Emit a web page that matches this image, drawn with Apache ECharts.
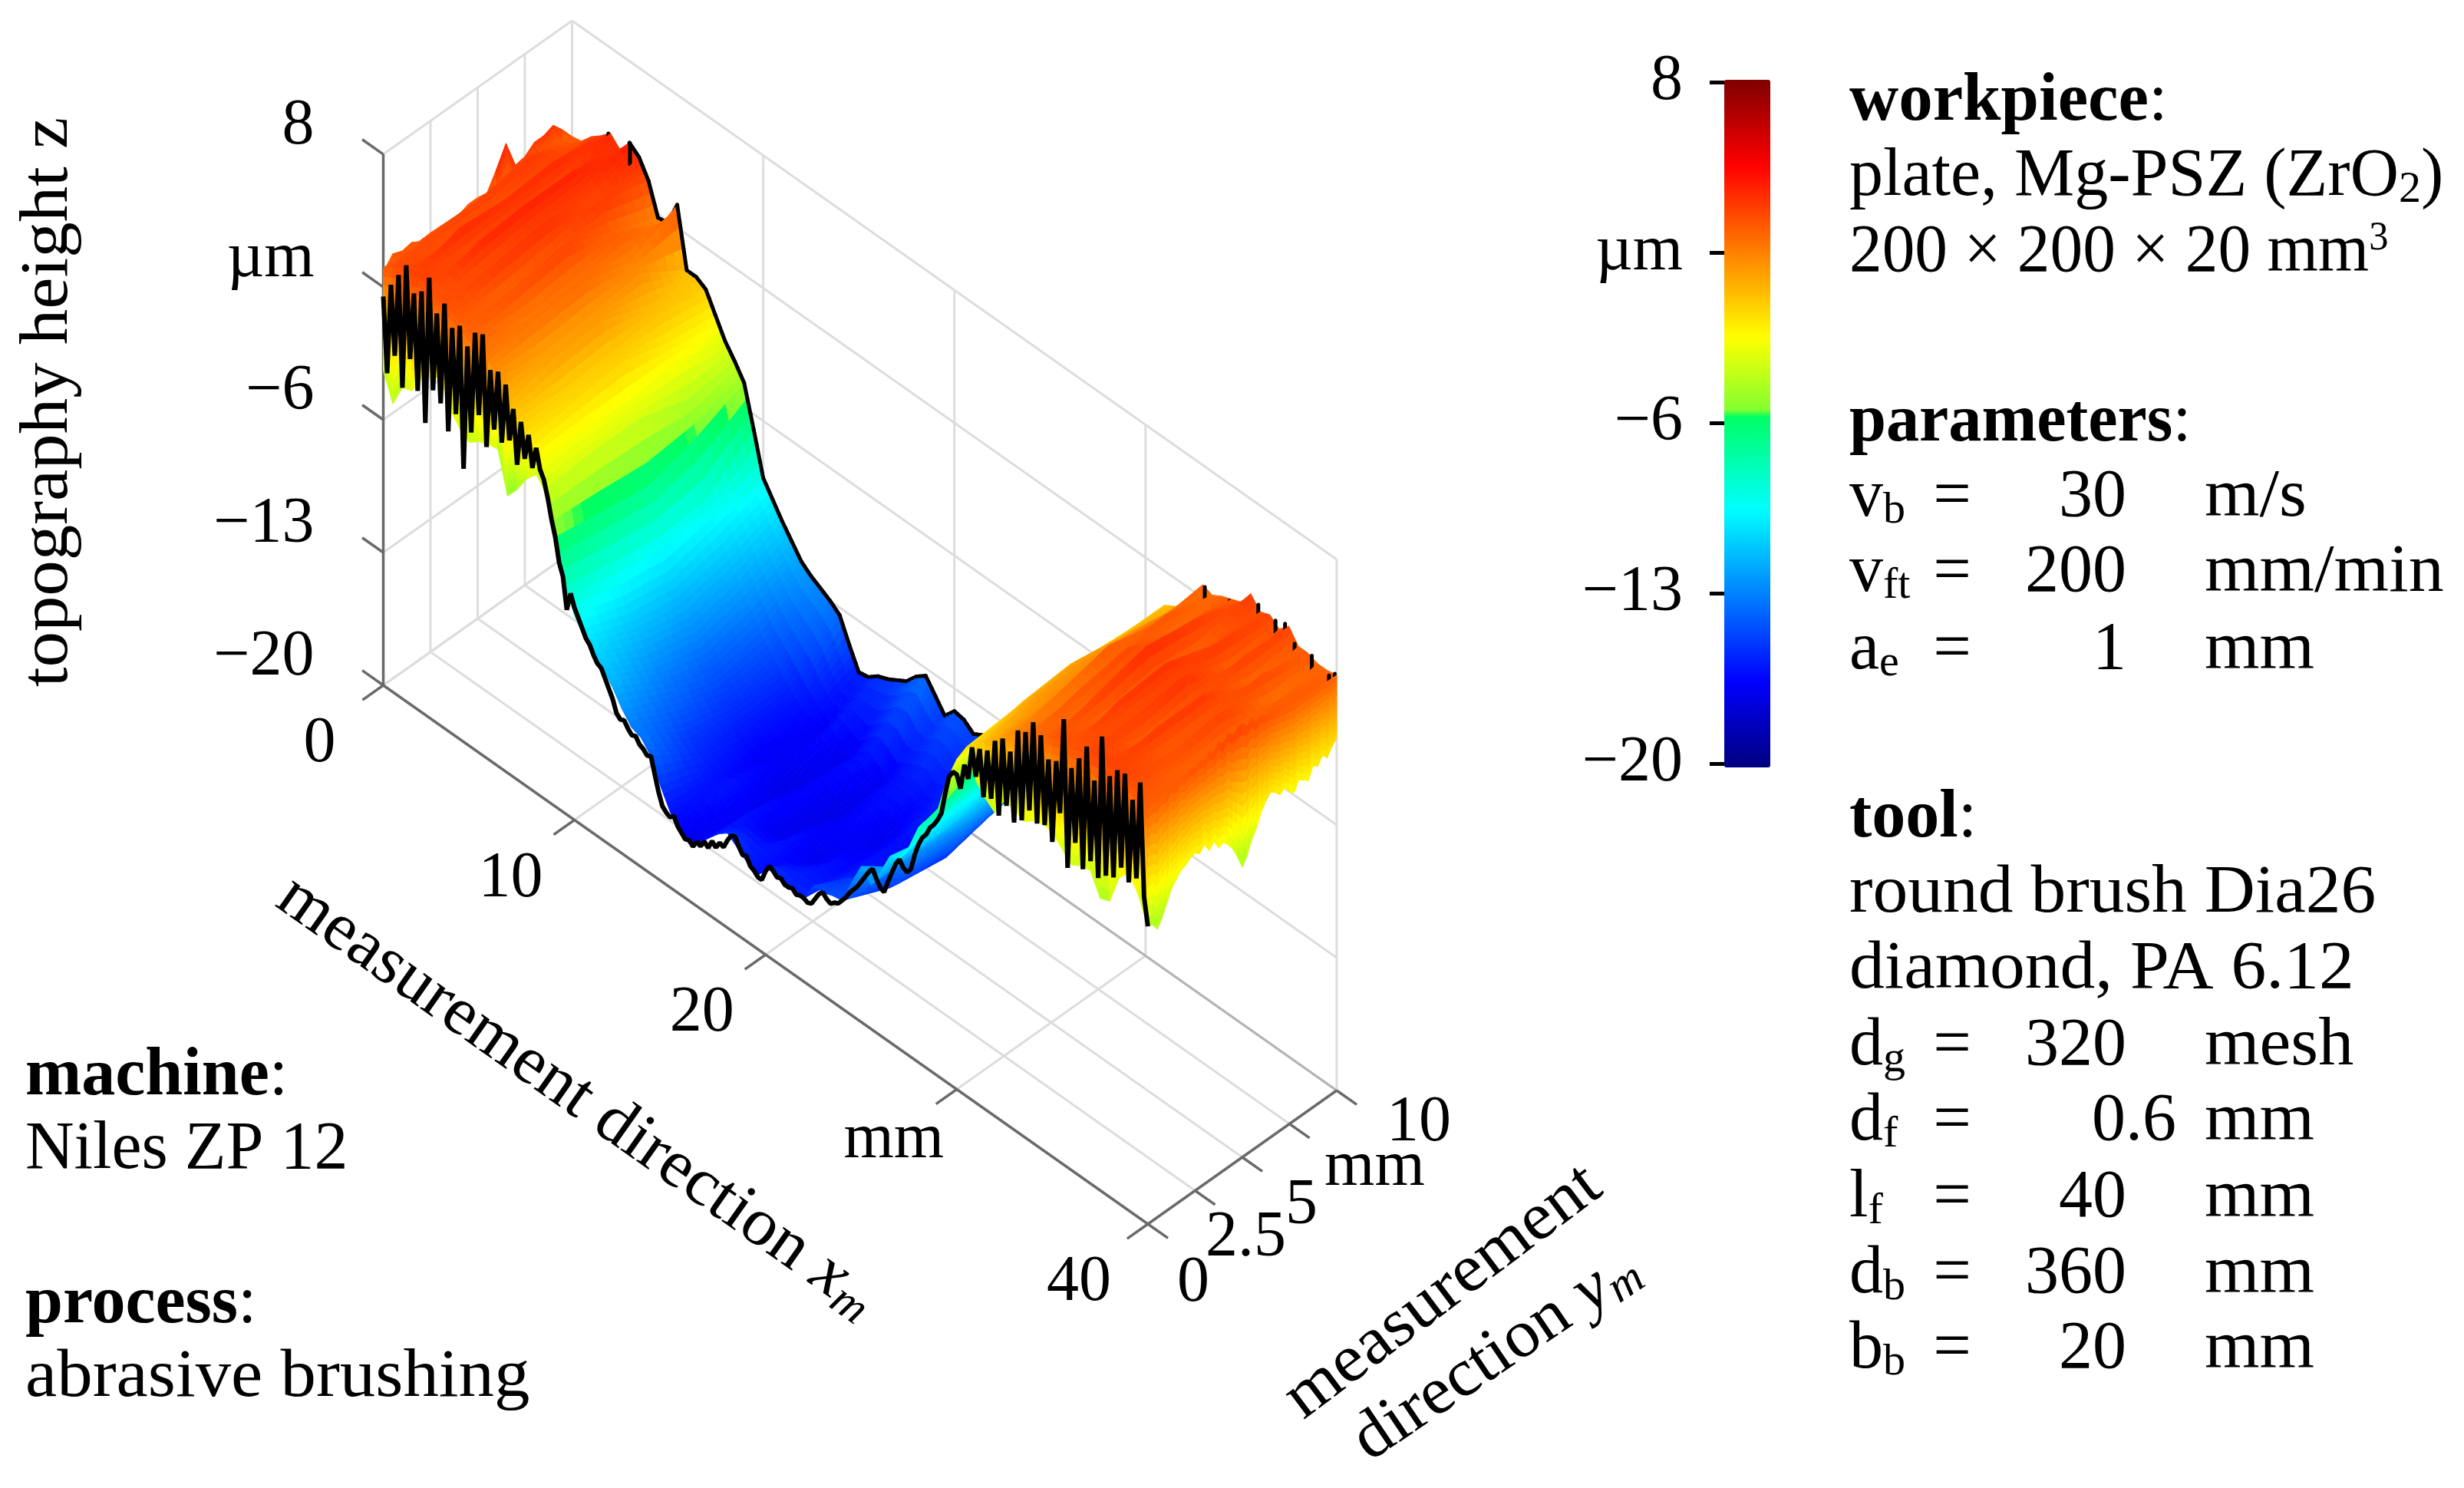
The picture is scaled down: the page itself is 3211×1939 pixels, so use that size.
<!DOCTYPE html>
<html><head><meta charset="utf-8">
<style>html,body{margin:0;padding:0;background:#fff}#c{width:3211px;height:1939px}</style>
<script src="https://cdn.jsdelivr.net/npm/echarts@6/dist/echarts.min.js"></script>
</head><body><div id="c"></div>
<script>
// ---------- tick values and labels ----------
const xTicks=[0,10,20,30,40];
const xTickLabels=['0','10','20','mm','40'];
const yTicks=[0,2.5,5,7.5,10];
const yTickLabels=['0','2.5','5','mm','10'];
const zTicks=[-20,-13,-6,1,8];
const zTickLabels=['\u221220','\u221213','\u22126','\u00b5m','8'];
// ---------- surface heights z (um) per row ym, columns xm = 0, 0.5 ... 40 ----------
const zY100=[1.9,2.0,2.6,3.0,3.5,3.0,3.7,3.3,2.4,0.8,
0.9,2.2,-0.9,-0.9,-1.2,-2.2,-3.2,-3.9,-4.7,-6.8,
-9.0,-9.8,-10.6,-11.3,-12.0,-12.4,-12.7,-13.0,-13.4,-14.6,
-15.7,-15.6,-15.2,-15.0,-14.7,-14.4,-13.8,-13.4,-14.1,-14.8,
-14.2,-14.3,-14.7,-14.4,-14.5,-14.6,-14.5,-14.6,-14.3,-14.0,
-13.5,-12.6,-11.5,-10.2,-9.0,-7.8,-6.5,-5.2,-4.0,-3.2,
-2.5,-1.6,-0.8,-0.5,-0.2,0.6,1.7,1.5,1.8,2.0,
2.2,3.0,2.4,2.6,2.2,2.7,2.0,2.0,1.8,1.8,
1.9];
const zY75=[2.6,3.0,2.6,3.4,2.6,3.6,3.0,2.6,3.0,1.8,
2.0,0.9,0.7,-0.6,-0.8,-1.9,-2.5,-4.2,-5.8,-8.8,
-9.8,-10.8,-11.6,-12.4,-13.2,-14.0,-14.6,-15.2,-15.8,-16.2,
-16.4,-16.8,-16.2,-16.6,-17.0,-16.4,-16.0,-16.4,-16.8,-16.2,
-16.0,-15.8,-16.2,-16.0,-15.6,-15.8,-15.6,-15.4,-15.0,-14.6,
-13.8,-12.8,-11.6,-10.4,-9.2,-8.0,-6.8,-5.6,-4.2,-3.0,
-2.2,-1.4,-0.8,-0.2,0.4,1.0,1.4,2.2,1.6,2.4,
3.0,1.8,2.4,3.0,1.8,2.8,1.6,2.6,1.4,2.0,
2.0];
const zY50=[2.0,2.8,2.2,3.2,2.8,3.6,2.8,3.2,2.2,2.8,
1.4,1.6,0.3,0.3,-1.0,-1.2,-2.8,-3.4,-6.6,-9.0,
-10.4,-11.4,-12.2,-13.0,-13.8,-14.4,-15.0,-15.4,-16.0,-16.4,
-16.8,-16.6,-17.0,-17.2,-16.8,-16.4,-16.8,-17.2,-17.0,-16.6,
-16.4,-16.8,-17.0,-16.6,-16.2,-16.6,-16.2,-16.0,-15.6,-15.2,
-14.2,-13.0,-11.8,-10.6,-9.4,-8.2,-7.0,-5.6,-4.2,-3.0,
-2.0,-1.2,-0.4,0.2,0.6,0.8,2.0,1.8,2.6,2.0,
3.4,2.0,3.2,2.6,3.2,2.2,3.0,2.2,2.8,1.8,
2.6];
const zY25=[2.1,2.6,2.2,3.4,2.4,3.4,2.4,3.0,1.8,2.4,
1.2,1.4,0.1,0.1,-1.2,-1.5,-2.6,-3.4,-6.2,-8.6,
-10.0,-11.0,-11.6,-12.4,-13.0,-13.6,-14.2,-15.0,-15.4,-15.8,
-16.2,-16.0,-16.4,-16.8,-16.2,-16.6,-17.0,-16.8,-16.2,-16.6,
-17.0,-16.6,-16.2,-16.4,-16.0,-15.8,-15.2,-15.0,-15.4,-14.8,
-13.6,-12.4,-11.6,-10.8,-9.4,-8.4,-7.2,-6.0,-4.8,-3.4,
-2.4,-1.4,-0.6,0.0,0.4,0.6,1.4,1.2,2.2,1.6,
2.8,1.6,3.0,2.4,2.8,1.8,3.0,2.0,2.4,1.8,
2.2];
const zY0=[2.0,2.4,2.6,2.6,2.8,2.2,2.4,2.2,2.0,1.8,
1.6,1.0,0.4,-0.6,-1.0,-1.8,-2.6,-3.6,-5.8,-8.0,
-9.2,-10.0,-10.6,-11.0,-11.6,-12.4,-13.0,-13.2,-13.8,-15.0,
-16.0,-16.6,-17.0,-16.6,-16.0,-15.4,-15.0,-15.4,-15.8,-16.2,
-15.4,-15.4,-15.6,-15.6,-15.6,-14.6,-14.6,-14.4,-14.3,-13.0,
-11.8,-12.4,-11.4,-10.2,-10.0,-9.0,-7.6,-6.8,-6.0,-4.0,
-2.6,-1.6,-1.2,-0.6,-0.2,0.4,0.8,1.2,1.6,1.8,
2.0,2.4,2.2,2.4,2.6,2.8,2.6,2.8,2.4,2.2,
1.8];
// lower edge of the surface under the front profile, same columns
const zFrontLow=[-3.4,-4.8,-3.6,-3.4,-2.4,-2.0,-1.6,-3.0,-3.6,-4.0,
-3.6,-3.4,-3.3,-5.4,-4.7,-3.8,-3.2,-3.8,-6.4,null,
null,null,null,null,null,null,null,null,null,null,
null,null,null,null,null,null,null,null,null,null,
null,null,null,null,null,null,null,null,null,null,
null,null,null,null,null,null,null,null,null,null,
null,null,-3.0,-3.6,-4.0,-3.0,-3.1,-3.4,-3.0,-2.8,
-2.9,-3.4,-3.9,-3.6,-3.5,-4.6,-4.4,-2.8,-2.2,-3.0,
-4.3];
// black profile at ym = 0, xm = 0, 0.2 ... 40
const zFrontLine=[0.5,-3.4,1.4,-2.2,2.2,-3.6,3.0,-1.8,1.8,-3.2,
2.2,-4.6,3.2,-2.6,1.6,-3.0,2.4,-4.2,1.4,-3.0,
1.8,-5.6,1.0,-3.4,2.0,-2.2,2.2,-3.6,0.6,-2.4,
0.8,-2.8,0.4,-2.4,-0.6,-3.4,-1.0,-2.8,-1.4,-3.0,
-1.8,-2.8,-3.2,-4.0,-5.0,-5.8,-7.0,-7.6,-9.2,-8.2,
-8.8,-9.2,-9.6,-10.0,-10.2,-10.6,-10.9,-11.0,-11.4,-11.8,
-12.2,-12.8,-13.0,-12.9,-13.2,-13.4,-13.3,-13.6,-13.7,-13.9,
-13.8,-14.6,-15.4,-16.0,-16.2,-16.3,-16.1,-16.5,-16.7,-16.9,
-16.8,-17.0,-16.6,-16.7,-16.3,-16.5,-16.0,-16.2,-15.8,-15.9,
-15.4,-15.0,-14.9,-15.3,-15.6,-15.5,-15.9,-16.0,-16.2,-16.2,
-15.6,-15.2,-15.3,-15.5,-15.4,-15.6,-15.6,-15.5,-15.7,-15.6,
-15.6,-15.7,-15.6,-15.2,-14.8,-14.6,-14.8,-14.9,-14.7,-14.6,
-14.3,-14.0,-13.6,-13.3,-13.0,-12.6,-12.2,-11.8,-11.5,-11.9,
-12.2,-12.3,-11.6,-11.0,-10.4,-10.0,-10.3,-10.4,-10.1,-9.2,
-8.5,-8.0,-7.7,-7.2,-6.9,-6.5,-6.0,-4.8,-3.8,-3.4,
-3.4,-4.0,-2.6,-3.2,-1.4,-2.8,-1.2,-3.6,-1.0,-3.4,
-0.2,-4.0,0.2,-3.2,-0.2,-3.8,1.2,-3.4,1.4,-2.6,
2.2,-3.0,1.8,-2.8,0.8,-3.4,1.0,-1.6,3.5,-4.2,
1.2,-2.6,2.0,-3.7,2.9,-3.0,1.4,-3.6,4.0,-3.2,
2.2,-3.0,2.8,-2.2,2.9,-2.7,1.8,-2.2,3.0,-2.9,
-4.3];
// short black strokes on the far edge: [xm, z top, z bottom]
const backStrokes=[[0.62,1.9,0.8],[1.9,3.4,2.4],[3.03,3.7,2.6],[31.97,-0.3,-1.2],[33.1,1.65,0.0],[34.4,1.85,1.1],[35.9,2.7,1.0],[36.8,2.5,1.4],[37.3,2.7,1.6],[37.8,2.0,1.4],[38.7,2.0,1.1],[39.6,1.6,0.8],[39.9,1.9,-1.2]];
// far-left silhouette at xm = 0, ym = 0, 0.5 ... 10
const zLeftEdge=[1.8,2.4,2.2,2.3,2.0,2.1,1.6,1.5,2.0,2.2,2.2,2.1,3.0,4.0,2.5,2.6,3.0,3.0,3.2,2.6,1.9];
// end face at xm = 40, ym = 0, 0.25 ... 10
const zEndTop=[1.8,2.0,1.7,2.1,1.9,2.3,2.0,2.3,2.1,2.4,
2.2,2.5,2.1,2.6,2.4,2.8,2.5,2.9,2.6,2.8,
2.9,2.5,2.8,2.4,2.6,2.2,2.4,2.0,2.2,1.9,
2.1,1.8,2.0,1.7,1.9,1.6,1.8,1.5,1.8,1.6,1.8];
const zEndLow=[-4.3,-4.4,-4.8,-4.4,-3.8,-3.2,-2.9,-2.6,-2.5,-2.3,
-2.2,-2.4,-2.1,-2.6,-2.3,-2.8,-2.7,-3.0,-3.4,-4.0,
-4.7,-4.3,-3.6,-3.2,-2.5,-2.1,-1.8,-2.0,-2.3,-2.1,
-2.5,-2.7,-2.2,-2.4,-2.6,-2.0,-2.2,-1.8,-2.1,-1.7,-1.4];
// colour map stops: [z, r, g, b]
const mapStops=[[-20,0,0,127],[-16.5,0,0,255],[-13,0,127,255],[-9.5,0,255,255],[-5.62,0,255,96],[-5.5,128,255,48],[-2.5,255,255,0],[1,255,127,0],[4.5,255,0,0],[8,127,0,0]];

// ---------- text ----------
const FONT='"Liberation Serif"';
const SZ=88, TICK=84;
const RICH={sub:{fontFamily:FONT,fontSize:58,padding:[34,0,0,0]},sup:{fontFamily:FONT,fontSize:52,padding:[0,0,38,0]},
 b:{fontFamily:FONT,fontWeight:'bold',fontSize:SZ},it:{fontFamily:FONT,fontStyle:'italic',fontSize:SZ},
 isub:{fontFamily:FONT,fontStyle:'italic',fontSize:60,padding:[36,0,0,0]}};
function T(text,x,y,o){o=o||{};return {type:'text',x:x,y:y,rotation:o.rot||0,scaleX:o.sx||1,silent:true,
 style:{text:text,font:(o.size||SZ)+'px '+FONT,fill:'#000',align:o.align||'left',verticalAlign:'middle',rich:RICH}};}
const headLines=[['{b|workpiece}:',133,1.01],['plate, Mg-PSZ (ZrO{sub|2})',231,1],['200 \u00d7 200 \u00d7 20 mm{sup|3}',330,0.97],
 ['{b|parameters}:',551,0.98],['{b|tool}:',1067,1],['round brush Dia26',1165,1.04],['diamond, PA 6.12',1264,1.04]];
const leftLines=[['{b|machine}:',1403,1],['Niles ZP 12',1499,1],['{b|process}:',1700,1],['abrasive brushing',1796,1.055]];
const paramRows=[['v{sub|b}','30','m/s',649],['v{sub|ft}','200','mm/min',747],['a{sub|e}','1','mm',848],
 ['d{sub|g}','320','mesh',1364],['d{sub|f}','0.6','mm',1462],['l{sub|f}','40','mm',1562],['d{sub|b}','360','mm',1661],['b{sub|b}','20','mm',1759]];
const graphics=[];
headLines.forEach(l=>graphics.push(T(l[0],2410,l[1],{sx:l[2]})));
leftLines.forEach(l=>graphics.push(T(l[0],33,l[1],{sx:l[2]})));
paramRows.forEach(r=>{graphics.push(T(r[0],2410,r[3]));graphics.push(T('=',2544,r[3],{align:'center'}));
 graphics.push(T(r[1],r[1]==='0.6'?2836:2771,r[3],{align:'right'}));graphics.push(T(r[2],2873,r[3],{sx:1.045}));});
graphics.push(T('topography height z',64,524,{rot:Math.PI/2,align:'center',sx:1.055}));
graphics.push(T('measurement direction {it|x}{isub|m}',752,1430,{rot:-35.2*Math.PI/180,align:'center',sx:1.03}));
graphics.push(T('measurement',1881,1684,{rot:37*Math.PI/180,align:'center',sx:1.05}));
graphics.push(T('direction {it|y}{isub|m}',1950,1766,{rot:34*Math.PI/180,align:'center',sx:1.03}));

// ---------- projection onto the hidden value axes ----------
const P=(xm,ym,z)=>[xm+0.98755*ym, z-0.71024*xm+0.70417*ym];
const lerp=(a,b,t)=>a+(b-a)*t;
const rows=[zY0,zY25,zY50,zY75,zY100], rowYm=[0,2.5,5,7.5,10], DX=0.5;

// colour list for the visual map (fine steps so the jump at about -5.6 stays sharp)
function mapColor(z){for(let i=0;i<mapStops.length-1;i++){const a=mapStops[i],b=mapStops[i+1];
  if(z<=b[0]){const t=(z-a[0])/(b[0]-a[0]);return 'rgb('+[1,2,3].map(k=>Math.round(lerp(a[k],b[k],t))).join(',')+')';}}
 return 'rgb(127,0,0)';}
const mapColors=[];for(let k=0;k<=224;k++){mapColors.push(mapColor(-20+k*0.125));}

// painter-ordered surface: far to near
const surf=[];
function poly(pts,zv){const it=[];pts.forEach(p=>it.push(p[0],p[1]));it.push(zv,0);surf.push(it);}
function seg(a,b){surf.push([a[0],a[1],b[0],b[1],a[0],a[1],b[0],b[1],0,1]);}
function wall(x0,y0,x1,y1,t0,t1,l0,l1){const NL=12;
 for(let k=0;k<NL;k++){const f0=k/NL,f1=(k+1)/NL;
  const a0=lerp(t0,l0,f0),a1=lerp(t1,l1,f0),b0=lerp(t0,l0,f1),b1=lerp(t1,l1,f1);
  poly([P(x0,y0,a0),P(x1,y1,a1),P(x1,y1,b1),P(x0,y0,b0)],(a0+a1+b0+b1)/4);}}
// far-left silhouette
for(let j=0;j<zLeftEdge.length-1;j++){wall(0,j*0.5,0,(j+1)*0.5,zLeftEdge[j],zLeftEdge[j+1],0.5,0.5);}
const SX=3,SY=5,NC=zY0.length-1;
for(let i=0;i<NC;i++){
 for(let s=0;s<SX;s++){
  const f0=s/SX,f1=(s+1)/SX,xa=(i+f0)*DX,xb=(i+f1)*DX;
  for(let r=rows.length-2;r>=0;r--){
   const za0=lerp(rows[r][i],rows[r][i+1],f0),zb0=lerp(rows[r][i],rows[r][i+1],f1),
         za1=lerp(rows[r+1][i],rows[r+1][i+1],f0),zb1=lerp(rows[r+1][i],rows[r+1][i+1],f1);
   for(let t=SY-1;t>=0;t--){
    const g0=t/SY,g1=(t+1)/SY,ya=lerp(rowYm[r],rowYm[r+1],g0),yb=lerp(rowYm[r],rowYm[r+1],g1);
    const c00=lerp(za0,za1,g0),c10=lerp(zb0,zb1,g0),c11=lerp(zb0,zb1,g1),c01=lerp(za0,za1,g1);
    poly([P(xa,ya,c00),P(xb,ya,c10),P(xb,yb,c11),P(xa,yb,c01)],(c00+c10+c11+c01)/4);
   }
   if(r===rows.length-2 && xa>=3 && xb<=21.6){seg(P(xa,10,za1),P(xb,10,zb1));}
  }
 }
 backStrokes.forEach(b=>{if(b[0]>=i*DX&&b[0]<(i+1)*DX)seg(P(b[0],10,b[1]),P(b[0],10,b[2]));});
}
// lower edge under the near profile
for(let i=0;i<NC;i++){if(zFrontLow[i]!=null&&zFrontLow[i+1]!=null){wall(i*DX,0,(i+1)*DX,0,zY0[i],zY0[i+1],zFrontLow[i],zFrontLow[i+1]);}}
// end face: starts at the surface edge wherever that lies above the end-face top
function edgeZ(ym){const last=zY0.length-1;for(let r=0;r<rows.length-1;r++){if(ym<=rowYm[r+1]){return lerp(rows[r][last],rows[r+1][last],(ym-rowYm[r])/(rowYm[r+1]-rowYm[r]));}}return rows[rows.length-1][last];}
for(let j=0;j<zEndTop.length-1;j++){const ya=j*0.25,yb=(j+1)*0.25;
 wall(40,ya,40,yb,Math.max(zEndTop[j],edgeZ(ya)),Math.max(zEndTop[j+1],edgeZ(yb)),zEndLow[j],zEndLow[j+1]);}

// ---------- box: wall grid, floor grid, axes, ticks ----------
const box=[];
const L=(a,b,k)=>{const p=P(a[0],a[1],a[2]),q=P(b[0],b[1],b[2]);box.push([p[0],p[1],q[0],q[1],k]);};
const Z0=zTicks[0],Z1=zTicks[zTicks.length-1],X1=xTicks[xTicks.length-1],Y1=yTicks[yTicks.length-1];
zTicks.forEach(z=>{L([0,0,z],[0,Y1,z],0);L([0,Y1,z],[X1,Y1,z],0);});
yTicks.forEach(y=>{if(y>0)L([0,y,Z0],[0,y,Z1],0);});
xTicks.forEach(x=>{L([x,Y1,Z0],[x,Y1,Z1],0);L([x,0,Z0],[x,Y1,Z0],0);});
yTicks.forEach(y=>{if(y>0)L([0,y,Z0],[X1,y,Z0],y===Y1?1:0);});
L([0,0,Z0],[X1,0,Z0],2);L([X1,0,Z0],[X1,Y1,Z0],2);L([0,0,Z0],[0,0,Z1],2);
xTicks.forEach(x=>L([x,0,Z0],[x,-1.1,Z0],2));
yTicks.forEach(y=>L([X1,y,Z0],[X1+1.05,y,Z0],2));
zTicks.forEach(z=>L([0,0,z],[-1.1,0,z],2));

// ---------- tick labels ----------
const tickItems=[];
const xOff=[[-83,77],[-83,77],[-83,77],[-82,66],[-90,77]];
xTicks.forEach((x,i)=>tickItems.push({p:P(x,0,Z0),t:xTickLabels[i],dx:xOff[i][0],dy:xOff[i][1],a:'center'}));
const yOff=[[59,78],[66,62],[77,64],[111,57],[107,43]];
yTicks.forEach((y,i)=>tickItems.push({p:P(X1,y,Z0),t:yTickLabels[i],dx:yOff[i][0],dy:yOff[i][1],a:'center'}));
zTicks.forEach((z,i)=>tickItems.push({p:P(0,0,z),t:zTickLabels[i],dx:-90,dy:-36,a:'right'}));

const chart=echarts.init(document.getElementById('c'),null,{renderer:'canvas'});
chart.setOption({
 animation:false,backgroundColor:'#fff',
 grid:[{left:499.5,top:3.4,width:1245.5,height:1630.9,show:false},
       {left:2247,top:107,width:60,height:888,show:false}],
 xAxis:[{type:'value',min:0,max:50,show:false,gridIndex:0},{type:'value',min:0,max:1,show:false,gridIndex:1}],
 yAxis:[{type:'value',min:-50,max:16,show:false,gridIndex:0},
  {type:'value',gridIndex:1,min:Z0,max:Z1,position:'left',offset:-12,splitLine:{show:false},axisLine:{show:false},
   axisTick:{show:true,length:31,customValues:zTicks,lineStyle:{color:'#000',width:5}},
   axisLabel:{margin:66,customValues:zTicks,formatter:v=>zTickLabels[zTicks.indexOf(v)],fontFamily:FONT,fontSize:TICK,color:'#000',padding:[6,0,0,0]}}],
 visualMap:{type:'continuous',show:true,seriesIndex:1,dimension:8,min:Z0,max:Z1,calculable:false,realtime:false,
  inRange:{color:mapColors},itemWidth:60,itemHeight:896,left:2247,top:104,padding:0,text:null,showLabel:false,
  textStyle:{fontSize:1,color:'transparent'},borderWidth:0},
 graphic:graphics,
 series:[
  {type:'custom',name:'box',coordinateSystem:'cartesian2d',xAxisIndex:0,yAxisIndex:0,silent:true,clip:false,data:box,encode:{x:0,y:1},
   renderItem:(p,api)=>{const k=api.value(4);const c={0:'#dddddd',1:'#b4b4b4',2:'#6a6a6a'}[k];
    const a=api.coord([api.value(0),api.value(1)]),b=api.coord([api.value(2),api.value(3)]);
    return {type:'line',shape:{x1:a[0],y1:a[1],x2:b[0],y2:b[1]},style:{stroke:c,lineWidth:k===2?3.5:3}};}},
  {type:'custom',name:'surface',coordinateSystem:'cartesian2d',xAxisIndex:0,yAxisIndex:0,silent:true,clip:false,progressive:0,data:surf,
   encode:{x:0,y:1},
   renderItem:(p,api)=>{const pts=[0,2,4,6].map(k=>api.coord([api.value(k),api.value(k+1)]));
    if(api.value(9)===1){return {type:'line',shape:{x1:pts[0][0],y1:pts[0][1],x2:pts[1][0],y2:pts[1][1]},style:{stroke:'#000',lineWidth:5,lineCap:'round'}};}
    const c=api.visual('color');
    return {type:'polygon',shape:{points:pts},style:{fill:c,stroke:c,lineWidth:1}};}},
  {type:'line',name:'front profile',coordinateSystem:'cartesian2d',xAxisIndex:0,yAxisIndex:0,silent:true,clip:false,symbol:'none',
   data:zFrontLine.map((z,i)=>P(i*0.2,0,z)),lineStyle:{color:'#000',width:6},z:3},
  {type:'custom',name:'tick labels',coordinateSystem:'cartesian2d',xAxisIndex:0,yAxisIndex:0,silent:true,clip:false,
   data:tickItems.map(t=>t.p),encode:{x:0,y:1},z:4,
   renderItem:(p,api)=>{const it=tickItems[p.dataIndex],c=api.coord([api.value(0),api.value(1)]);
    return {type:'text',x:c[0]+it.dx,y:c[1]+it.dy,style:{text:it.t,font:TICK+'px '+FONT,fill:'#000',align:it.a,verticalAlign:'middle'}};}},
  {type:'custom',name:'colorbar axis holder',coordinateSystem:'cartesian2d',xAxisIndex:1,yAxisIndex:1,silent:true,data:[],renderItem:()=>null}
 ]
});
</script></body></html>
